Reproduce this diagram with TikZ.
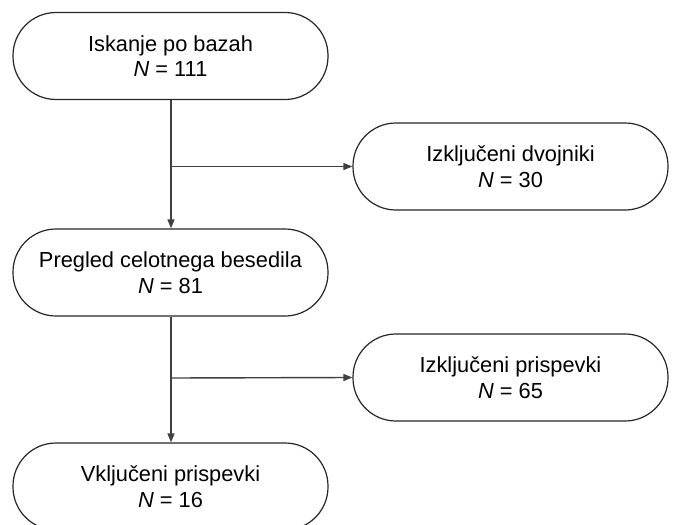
\documentclass[tikz,border=0pt]{standalone}
\usepackage{fontspec}
\setmainfont{Liberation Sans}
\usetikzlibrary{arrows.meta}
\begin{document}
\begin{tikzpicture}[x=1pt,y=1pt,
  box/.style={draw=black!85, line width=1.2pt, rounded corners=43pt,
    minimum width=315pt, minimum height=87pt, align=center, inner sep=0pt,
    font=\fontsize{21.8pt}{25.5pt}\selectfont},
  conn/.style={draw=black!75, line width=1.4pt, -{Triangle[length=9pt,width=7pt]}},
  plain/.style={draw=black!75, line width=1.4pt}]
\useasboundingbox (0,0) rectangle (673,-525);
\begin{scope}
\clip (0,0) rectangle (673,-525);
\node[box] (a) at (170.5,-56) {Iskanje po bazah\\\textit{N} = 111};
\node[box] (b) at (510.5,-166.5) {Izključeni dvojniki\\\textit{N} = 30};
\node[box] (c) at (170.5,-272.5) {Pregled celotnega besedila\\\textit{N} = 81};
\node[box] (d) at (510.5,-377.5) {Izključeni prispevki\\\textit{N} = 65};
\node[box] (e) at (170.5,-486.5) {Vključeni prispevki\\\textit{N} = 16};
\coordinate (j1) at (171,-166.5);
\coordinate (j2) at (171,-378);
\draw[conn] (a.south -| j1) -- (c.north -| j1);
\draw[conn] (j1) -- (b.west);
\draw[conn] (c.south -| j2) -- (e.north -| j2);
\draw[conn] (j2) -- (d.west);
\end{scope}
\end{tikzpicture}
\end{document}
